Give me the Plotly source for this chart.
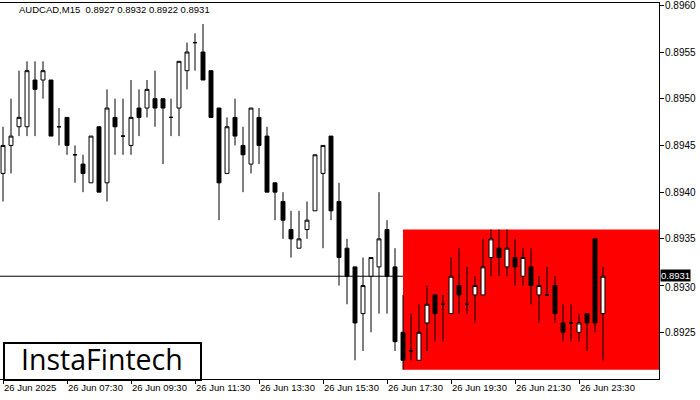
import plotly.graph_objects as go

# ---- data ----
opens = [0.8942, 0.8945, 0.8947, 0.8947, 0.8952, 0.8952, 0.8952, 0.8947, 0.8948, 0.8944,
         0.8943, 0.8941, 0.8947, 0.8941, 0.8948, 0.8946, 0.8945, 0.8949, 0.8949, 0.8950,
         0.8950, 0.8948, 0.8949, 0.8953, 0.8956, 0.8955, 0.8953, 0.8949, 0.8942, 0.8948,
         0.8945, 0.8943, 0.8948, 0.8946, 0.8941, 0.8939, 0.8936, 0.8934, 0.8936, 0.8938,
         0.8942, 0.8946, 0.8939, 0.8934, 0.8932, 0.8927, 0.8931, 0.8932, 0.8936, 0.8932,
         0.8925, 0.8923, 0.8922, 0.8926, 0.8929, 0.8928, 0.8927, 0.8930, 0.8928, 0.8929,
         0.8929, 0.8933, 0.8934, 0.8932, 0.8933, 0.8931, 0.8932, 0.8929, 0.8929, 0.8930,
         0.8926, 0.8926, 0.8925, 0.8927, 0.8935, 0.8927]
highs = [0.8947, 0.8950, 0.8953, 0.8954, 0.8954, 0.8954, 0.8952, 0.8949, 0.8948, 0.8945,
         0.8944, 0.8946, 0.8947, 0.8951, 0.8950, 0.8950, 0.8952, 0.8951, 0.8952, 0.8953,
         0.8950, 0.8950, 0.8954, 0.8956, 0.8957, 0.8958, 0.8953, 0.8949, 0.8948, 0.8950,
         0.8947, 0.8949, 0.8949, 0.8947, 0.8941, 0.8940, 0.8938, 0.8938, 0.8939, 0.8944,
         0.8945, 0.8946, 0.8941, 0.8935, 0.8932, 0.8933, 0.8933, 0.8940, 0.8937, 0.8934,
         0.8929, 0.8927, 0.8928, 0.8930, 0.8929, 0.8929, 0.8933, 0.8934, 0.8932, 0.8931,
         0.8935, 0.8936, 0.8936, 0.8936, 0.8935, 0.8934, 0.8934, 0.8931, 0.8932, 0.8931,
         0.8928, 0.8928, 0.8927, 0.8927, 0.8935, 0.8932]
lows = [0.8939, 0.8942, 0.8946, 0.8946, 0.8946, 0.8950, 0.8946, 0.8945, 0.8944, 0.8941,
        0.8940, 0.8941, 0.8940, 0.8939, 0.8944, 0.8944, 0.8944, 0.8946, 0.8948, 0.8947,
        0.8943, 0.8946, 0.8946, 0.8951, 0.8953, 0.8952, 0.8948, 0.8937, 0.8942, 0.8945,
        0.8940, 0.8942, 0.8943, 0.8940, 0.8937, 0.8935, 0.8933, 0.8934, 0.8935, 0.8938,
        0.8934, 0.8937, 0.8930, 0.8928, 0.8922, 0.8923, 0.8925, 0.8927, 0.8927, 0.8923,
        0.8921, 0.8922, 0.8922, 0.8923, 0.8924, 0.8924, 0.8927, 0.8927, 0.8927, 0.8926,
        0.8929, 0.8931, 0.8931, 0.8931, 0.8930, 0.8930, 0.8928, 0.8926, 0.8929, 0.8926,
        0.8924, 0.8924, 0.8924, 0.8923, 0.8925, 0.8922]
closes = [0.8945, 0.8946, 0.8948, 0.8953, 0.8951, 0.8953, 0.8946, 0.8947, 0.8945, 0.8944,
          0.8942, 0.8946, 0.8940, 0.8949, 0.8947, 0.8946, 0.8948, 0.8948, 0.8951, 0.8949,
          0.8949, 0.8948, 0.8954, 0.8955, 0.8956, 0.8952, 0.8948, 0.8941, 0.8947, 0.8946,
          0.8944, 0.8949, 0.8945, 0.8940, 0.8940, 0.8937, 0.8935, 0.8935, 0.8937, 0.8944,
          0.8945, 0.8938, 0.8933, 0.8931, 0.8926, 0.8930, 0.8933, 0.8935, 0.8931, 0.8924,
          0.8922, 0.8923, 0.8925, 0.8928, 0.8927, 0.8928, 0.8931, 0.8929, 0.8928, 0.8930,
          0.8932, 0.8935, 0.8933, 0.8934, 0.8932, 0.8933, 0.8930, 0.8930, 0.8929, 0.8927,
          0.8925, 0.8926, 0.8926, 0.8926, 0.8926, 0.8931]
bars = list(range(len(opens)))

x_tick_bars = [0, 8, 16, 24, 32, 40, 48, 56, 64, 72]
x_tick_labels = ["26 Jun 2025", "26 Jun 07:30", "26 Jun 09:30", "26 Jun 11:30", "26 Jun 13:30",
                 "26 Jun 15:30", "26 Jun 17:30", "26 Jun 19:30", "26 Jun 21:30", "26 Jun 23:30"]
y_ticks = [0.8925, 0.8930, 0.8935, 0.8940, 0.8945, 0.8950, 0.8955, 0.8960]

title_text = "AUDCAD,M15  0.8927 0.8932 0.8922 0.8931"
current_price = 0.8931
zone_start_bar = 50
zone_top = 0.8936
zone_bottom = 0.8921
logo_text = "InstaFintech"

# ---- figure ----
W, H = 700, 400
ML, MR, MT, MB = 0, 41, 3, 21
PW, PH = W - ML - MR, H - MT - MB
Y0 = 0.8920
Y1 = Y0 + PH / 93430.0
X0 = -0.375
X1 = X0 + PW / 8.0


def px_x(px):
    return (px - ML) / PW


def px_y(py):
    return (H - MB - py) / PH


fig = go.Figure()
fig.add_trace(go.Candlestick(
    x=bars, open=opens, high=highs, low=lows, close=closes,
    increasing=dict(line=dict(color="black", width=1), fillcolor="white"),
    decreasing=dict(line=dict(color="black", width=1), fillcolor="black"),
    whiskerwidth=0, hoverinfo="skip", showlegend=False,
))

font_axis = dict(family="Liberation Sans", size=9.5, color="black")
font_yaxis = dict(family="Liberation Sans", size=10, color="black")

fig.update_layout(
    width=W, height=H,
    margin=dict(l=ML, r=MR, t=MT, b=MB, pad=0, autoexpand=False),
    paper_bgcolor="white", plot_bgcolor="white",
    showlegend=False,
    xaxis=dict(
        range=[X0, X1], rangeslider=dict(visible=False), automargin=False,
        showgrid=False, zeroline=False,
        showline=True, linecolor="black", linewidth=1, mirror=True,
        tickmode="array", tickvals=x_tick_bars, ticktext=x_tick_labels,
        ticks="outside", ticklen=4, tickcolor="black",
        ticklabelposition="outside right", ticklabeloverflow="allow",
        tickfont=font_axis,
    ),
    yaxis=dict(
        range=[Y0, Y1], side="right", automargin=False,
        showgrid=False, zeroline=False,
        showline=True, linecolor="black", linewidth=1,
        tickmode="array", tickvals=y_ticks,
        ticks="outside", ticklen=4, tickcolor="black",
        showticklabels=False,
    ),
)

# y tick labels
for v in y_ticks:
    fig.add_annotation(xref="paper", yref="y", x=1, y=v, xanchor="left", yanchor="middle",
                       xshift=4, yshift=(-2 if abs(v - current_price) < 0.00015 else 0),
                       text=f"{v:.4f}", showarrow=False, font=font_yaxis)

# red zone
fig.add_shape(type="rect", xref="x", yref="y",
              x0=zone_start_bar, x1=X1, y0=zone_bottom, y1=zone_top,
              fillcolor="#ff0000", line=dict(width=0), layer="below")
# current price line
fig.add_shape(type="line", xref="paper", yref="y",
              x0=0, x1=1, y0=current_price, y1=current_price,
              line=dict(color="black", width=1), layer="below")

# current price label
fig.add_annotation(xref="paper", yref="y", x=1, y=current_price,
                   xanchor="left", yanchor="middle", xshift=1, yshift=1,
                   text=f"{current_price:.4f}", showarrow=False,
                   bgcolor="black", borderpad=0,
                   font=dict(family="Liberation Sans", size=9.5, color="white"))

# title
fig.add_annotation(xref="paper", yref="paper", x=px_x(17), y=px_y(10),
                   xanchor="left", yanchor="middle", text=title_text, showarrow=False,
                   font=dict(family="Liberation Sans", size=9.5, color="black"))

# logo box
fig.add_shape(type="rect", xref="paper", yref="paper",
              x0=px_x(4), x1=px_x(201), y0=px_y(380), y1=px_y(343),
              fillcolor="white", line=dict(color="black", width=2), layer="above")
fig.add_annotation(xref="paper", yref="paper", x=px_x(102), y=px_y(359),
                   xanchor="center", yanchor="middle", text=logo_text, showarrow=False,
                   font=dict(family="Open Sans", size=28.5, color="black"))

fig.write_html("out.html", config={"displayModeBar": False},
               post_script="document.body.style.margin='0';")
